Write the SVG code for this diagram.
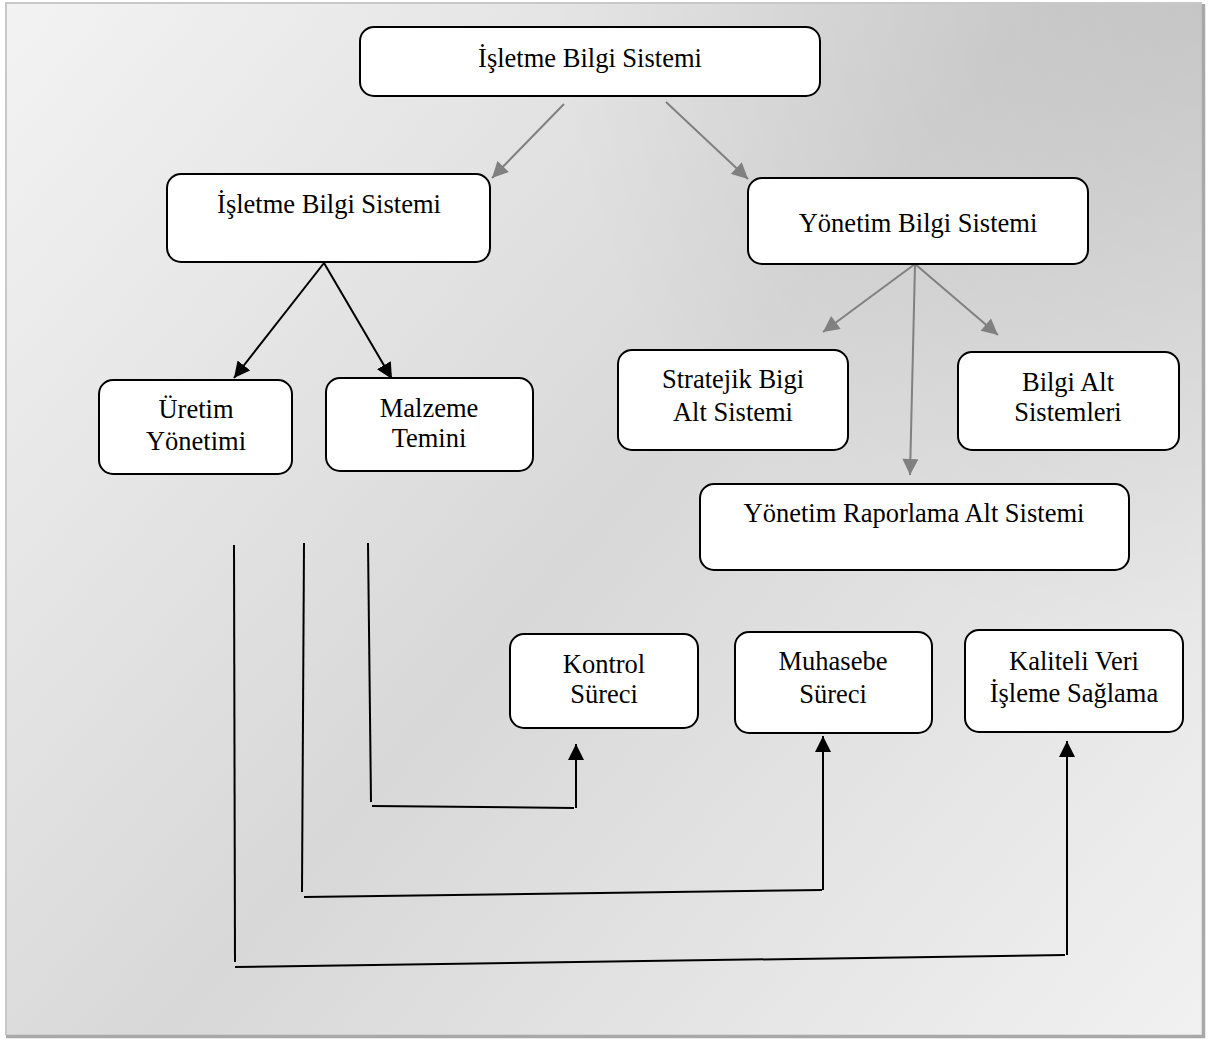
<svg xmlns="http://www.w3.org/2000/svg" width="1209" height="1041" viewBox="0 0 1209 1041">
<defs>
<linearGradient id="bg" gradientUnits="userSpaceOnUse" x1="6" y1="3" x2="1202" y2="1035">
<stop offset="0" stop-color="#f3f3f3"/>
<stop offset="0.5" stop-color="#d8d8d8"/>
<stop offset="1" stop-color="#f1f1f1"/>
</linearGradient>
<radialGradient id="tr" gradientUnits="userSpaceOnUse" cx="1202" cy="3" r="650">
<stop offset="0" stop-color="#000" stop-opacity="0.1"/>
<stop offset="1" stop-color="#000" stop-opacity="0"/>
</radialGradient>
<marker id="ag" viewBox="0 0 10 10" refX="10" refY="5" markerUnits="userSpaceOnUse" markerWidth="17" markerHeight="16" orient="auto">
<path d="M0,0 L10,5 L0,10 z" fill="#808080"/>
</marker>
<marker id="ab" viewBox="0 0 10 10" refX="10" refY="5" markerUnits="userSpaceOnUse" markerWidth="16" markerHeight="16" orient="auto">
<path d="M0,0 L10,5 L0,10 z" fill="#000"/>
</marker>
</defs>
<style>
.box{fill:#fff;stroke:#000;stroke-width:2}
.t{font-family:"Liberation Serif","Times New Roman",serif;font-size:26.5px;fill:#000;text-anchor:middle}
.g{stroke:#808080;stroke-width:2;fill:none}
.k{stroke:#000;stroke-width:2;fill:none}
</style>
<rect x="0" y="0" width="1209" height="1041" fill="#fff"/>
<rect x="6" y="3" width="1196" height="1032" fill="url(#bg)"/>
<rect x="6" y="3" width="1196" height="1032" fill="url(#tr)"/>
<path d="M6,1035 L6,3 L1202,3" fill="none" stroke="#c8c8c8" stroke-width="2"/>
<path d="M1203.5,4 L1203.5,1036.5 L6,1036.5" fill="none" stroke="#a8a8a8" stroke-width="3.5"/>

<g id="connectors">
<line class="g" x1="564" y1="104" x2="492" y2="178" marker-end="url(#ag)"/>
<line class="g" x1="666" y1="102" x2="748" y2="179" marker-end="url(#ag)"/>
<line class="g" x1="915" y1="264" x2="823" y2="332" marker-end="url(#ag)"/>
<line class="g" x1="915" y1="265" x2="910" y2="475" marker-end="url(#ag)"/>
<line class="g" x1="915" y1="264" x2="998" y2="335" marker-end="url(#ag)"/>
<line class="k" x1="324" y1="263" x2="234" y2="378" marker-end="url(#ab)"/>
<line class="k" x1="324" y1="263" x2="392" y2="379" marker-end="url(#ab)"/>
<line class="k" x1="368" y1="543" x2="371" y2="802"/>
<line class="k" x1="372" y1="806" x2="574" y2="808"/>
<line class="k" x1="576" y1="808" x2="576" y2="744" marker-end="url(#ab)"/>
<line class="k" x1="304" y1="543" x2="302" y2="892"/>
<line class="k" x1="304" y1="897" x2="822" y2="890"/>
<line class="k" x1="823" y1="890" x2="823" y2="736" marker-end="url(#ab)"/>
<line class="k" x1="234" y1="545" x2="235" y2="962"/>
<line class="k" x1="235" y1="967" x2="1065" y2="955"/>
<line class="k" x1="1067" y1="955" x2="1067" y2="741" marker-end="url(#ab)"/>
</g>

<g id="n-top"><rect class="box" x="360" y="27" width="460" height="69" rx="14"/><text class="t" x="590" y="67">İşletme Bilgi Sistemi</text></g>
<g id="n-isletme"><rect class="box" x="167" y="174" width="323" height="88" rx="14"/><text class="t" x="329" y="213">İşletme Bilgi Sistemi</text></g>
<g id="n-yonetim"><rect class="box" x="748" y="178" width="340" height="86" rx="14"/><text class="t" x="918" y="232">Yönetim Bilgi Sistemi</text></g>
<g id="n-uretim"><rect class="box" x="99" y="380" width="193" height="94" rx="14"/><text class="t" x="196" y="418">Üretim</text><text class="t" x="196" y="450">Yönetimi</text></g>
<g id="n-malzeme"><rect class="box" x="326" y="378" width="207" height="93" rx="14"/><text class="t" x="429" y="417">Malzeme</text><text class="t" x="429" y="447">Temini</text></g>
<g id="n-stratejik"><rect class="box" x="618" y="350" width="230" height="100" rx="14"/><text class="t" x="733" y="388">Stratejik Bigi</text><text class="t" x="733" y="421">Alt Sistemi</text></g>
<g id="n-bilgialt"><rect class="box" x="958" y="352" width="221" height="98" rx="14"/><text class="t" x="1068" y="391">Bilgi Alt</text><text class="t" x="1068" y="421">Sistemleri</text></g>
<g id="n-raporlama"><rect class="box" x="700" y="484" width="429" height="86" rx="14"/><text class="t" x="914" y="522">Yönetim Raporlama Alt Sistemi</text></g>
<g id="n-kontrol"><rect class="box" x="510" y="634" width="188" height="94" rx="14"/><text class="t" x="604" y="673">Kontrol</text><text class="t" x="604" y="703">Süreci</text></g>
<g id="n-muhasebe"><rect class="box" x="735" y="632" width="197" height="101" rx="14"/><text class="t" x="833" y="670">Muhasebe</text><text class="t" x="833" y="703">Süreci</text></g>
<g id="n-kaliteli"><rect class="box" x="965" y="630" width="218" height="102" rx="14"/><text class="t" x="1074" y="670">Kaliteli Veri</text><text class="t" x="1074" y="702">İşleme Sağlama</text></g>
</svg>
